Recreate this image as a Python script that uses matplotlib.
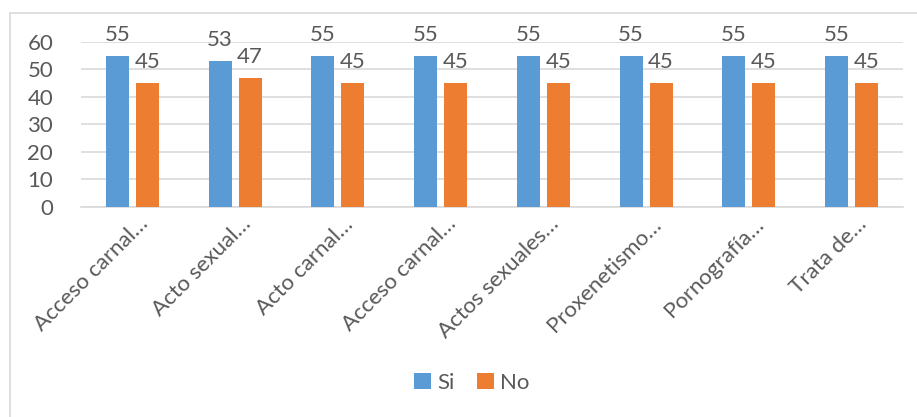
import numpy as np
import matplotlib
matplotlib.use("Agg")
import matplotlib.pyplot as plt
from matplotlib.patches import Rectangle

plt.rcParams['font.family'] = ['Lato', 'DejaVu Sans']

# datos
categorias = ["Acceso carnal…", "Acto sexual…", "Acto carnal…", "Acceso carnal…",
              "Actos sexuales…", "Proxenetismo…", "Pornografía…", "Trata de…"]
si = [55, 53, 55, 55, 55, 55, 55, 55]
no = [45, 47, 45, 45, 45, 45, 45, 45]

azul = '#5B9BD5'
naranja = '#ED7D31'
gris_txt = '#595959'
fs = 16

fig = plt.figure(figsize=(9.17, 4.17), dpi=100)
ax = fig.add_axes([0.0883, 0.5036, 0.8964, 0.3957])

# borde del grafico
fig.patches.append(Rectangle((10 / 917, -0.1), 1.2, 1 - 13 / 417 + 0.1,
                             transform=fig.transFigure, fill=False,
                             edgecolor='#D9D9D9', linewidth=1.2))

x = np.arange(len(categorias))
w = 0.224
off = 0.146
b1 = ax.bar(x - off, si, w, color=azul, label='Si', zorder=3)
b2 = ax.bar(x + off, no, w, color=naranja, label='No', zorder=3)

for bars, vals in [(b1, si), (b2, no)]:
    for r, v in zip(bars, vals):
        ax.text(r.get_x() + r.get_width() / 2, v + 5.5, str(v), ha='center', va='baseline',
                fontsize=fs, color=gris_txt)

ax.set_xlim(-0.5, len(categorias) - 0.5)
ax.set_ylim(0, 60)
ax.set_yticks(range(0, 61, 10))
ax.yaxis.grid(True, color='#D9D9D9', linewidth=1.2, zorder=0)
ax.tick_params(axis='y', length=0, labelsize=fs, labelcolor=gris_txt, pad=20)
ax.tick_params(axis='x', length=0, pad=5)
for s in ['top', 'right', 'left']:
    ax.spines[s].set_visible(False)
ax.spines['bottom'].set_color('#D9D9D9')
ax.spines['bottom'].set_linewidth(1.2)

ax.set_xticks(x + 0.05)
ax.set_xticklabels(categorias, rotation=45, ha='right', va='top', rotation_mode='anchor',
                   fontsize=fs, color=gris_txt)

fig.legend(handles=[b1, b2], labels=['Si', 'No'], loc='center', bbox_to_anchor=(472 / 917, 1 - 383 / 417),
           ncol=2, frameon=False, fontsize=fs, labelcolor=gris_txt, handlelength=0.75,
           handleheight=0.75, handletextpad=0.3, columnspacing=1.0)

fig.savefig('out.png', dpi=100)
